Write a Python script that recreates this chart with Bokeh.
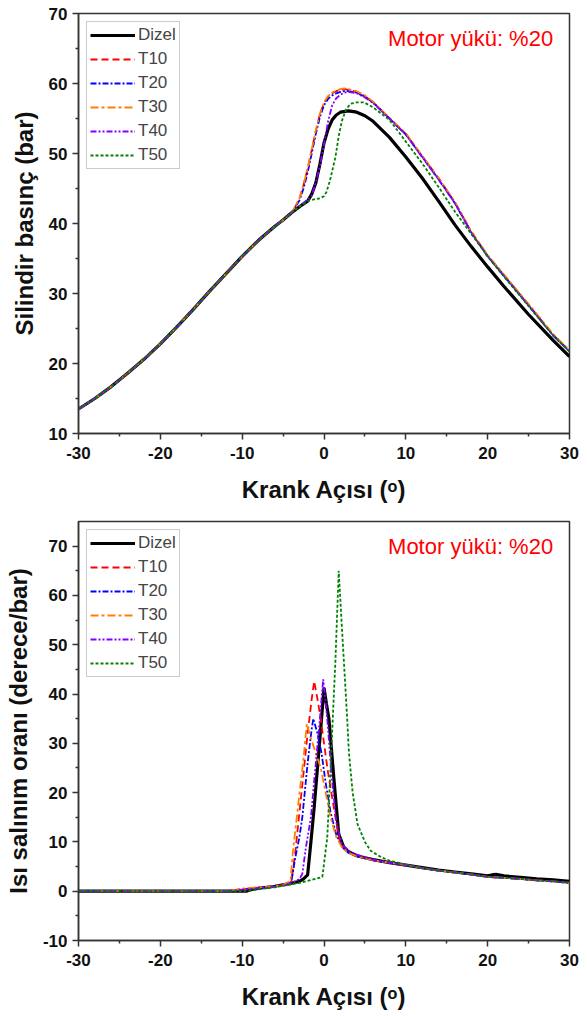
from bokeh.plotting import figure
from bokeh.layouts import column
from bokeh.models import Legend, LegendItem, Range1d, FixedTicker, Label
from bokeh.embed import file_html
from bokeh.resources import INLINE

# ---------------- data: cylinder pressure (bar) ----------------
series_names = ["Dizel", "T10", "T20", "T30", "T40", "T50"]

p_x_common = [-30, -28, -26, -24, -22, -20, -18, -16, -14, -12, -10, -8, -6, -5, -4]
p_y_common = [13.5, 15.0, 16.7, 18.6, 20.6, 22.8, 25.2, 27.7, 30.3, 32.8, 35.3, 37.6, 39.6, 40.5, 41.5]

p_dizel_x = [-3, -2, -1.5, -1, -0.5, 0, 0.5, 1, 1.5, 2, 3, 4, 5, 6, 8, 10, 12, 14, 16, 18, 20, 22, 25, 28, 30]
p_dizel_y = [42.4, 43.2, 44.2, 45.8, 48.5, 51.5, 53.5, 54.8, 55.5, 55.9, 56.1, 55.9, 55.4, 54.6, 52.3, 49.5, 46.5, 43.2, 39.8, 36.7, 33.8, 31.0, 27.0, 23.3, 21.0]

p_t10_x = [-3.5, -3, -2.5, -2, -1.5, -1, -0.5, 0, 0.5, 1, 1.5, 2, 2.5, 3, 4, 5, 6, 8, 10, 12, 14, 16, 18, 20, 22, 25, 28, 30]
p_t10_y = [42.4, 43.5, 45.5, 47.8, 50.5, 53.2, 55.6, 57.2, 58.1, 58.6, 58.9, 59.1, 59.2, 59.1, 58.8, 58.2, 57.3, 55.0, 52.8, 49.6, 46.5, 43.0, 38.8, 35.4, 32.6, 28.4, 24.1, 21.8]

p_t20_x = [-3.5, -3, -2.5, -2, -1.5, -1, -0.5, 0, 0.5, 1, 1.5, 2, 2.5, 3, 4, 5, 6, 8, 10, 12, 14, 16, 18, 20, 22, 25, 28, 30]
p_t20_y = [42.3, 43.3, 45.0, 47.3, 50.0, 52.8, 55.2, 56.9, 57.8, 58.3, 58.6, 58.8, 58.9, 58.9, 58.7, 58.1, 57.3, 55.0, 52.7, 49.5, 46.3, 42.9, 38.7, 35.3, 32.5, 28.3, 24.0, 21.7]

p_t30_x = [-3.5, -3, -2.5, -2, -1.5, -1, -0.5, 0, 0.5, 1, 1.5, 2, 2.5, 3, 4, 5, 6, 8, 10, 12, 14, 16, 18, 20, 22, 25, 28, 30]
p_t30_y = [42.5, 43.6, 45.6, 47.9, 50.6, 53.3, 55.7, 57.3, 58.2, 58.7, 59.0, 59.2, 59.3, 59.2, 58.9, 58.3, 57.4, 55.1, 52.9, 49.7, 46.5, 43.1, 38.9, 35.5, 32.7, 28.5, 24.2, 21.9]

p_t40_x = [-3, -2, -1.5, -1, -0.5, 0, 0.5, 1, 1.5, 2, 2.5, 3, 4, 5, 6, 8, 10, 12, 14, 16, 18, 20, 22, 25, 28, 30]
p_t40_y = [42.5, 43.4, 44.0, 45.8, 48.2, 51.3, 54.6, 56.9, 57.9, 58.4, 58.7, 58.8, 58.6, 58.0, 57.2, 55.0, 52.7, 49.5, 46.3, 42.9, 38.7, 35.3, 32.5, 28.3, 24.0, 21.7]

p_t50_x = [-3, -2, -1, -0.5, 0, 0.3, 0.7, 1.0, 1.4, 1.8, 2.2, 2.7, 3.25, 4, 4.9, 6, 8, 10, 12, 14, 16, 18, 20, 22, 25, 28, 30]
p_t50_y = [42.4, 43.2, 43.5, 43.6, 43.9, 44.5, 46.0, 47.5, 49.5, 52.5, 54.7, 56.3, 57.1, 57.3, 57.3, 56.6, 54.8, 51.7, 48.6, 45.2, 41.7, 38.5, 35.3, 32.4, 28.2, 24.0, 21.7]

# ---------------- data: heat release rate (derece/bar) ----------------
h_x_common = [-30, -25, -20, -15, -12]
h_y_common = [0, 0, 0, 0, 0]

h_dizel_x = [-10, -9.5, -9, -8, -7, -6, -5, -4, -3, -2.5, -2.0, -1.6, -1.2, -0.8, -0.4, 0, 0.3, 0.6, 1.2, 1.8, 2.4, 3, 4, 5, 6, 8, 10, 12, 14, 16, 18, 20, 20.5, 21, 22, 24, 26, 28, 30]
h_dizel_y = [0, 0, 0.3, 0.6, 0.8, 1.0, 1.3, 1.6, 2.0, 2.5, 3.3, 10, 17, 25, 33, 41.3, 38, 35, 23, 11.6, 9.0, 8.0, 7.2, 6.8, 6.4, 5.8, 5.3, 4.8, 4.3, 3.9, 3.5, 3.1, 3.3, 3.4, 3.1, 2.8, 2.5, 2.3, 2.0]

h_t10_x = [-10, -8, -6, -5, -4, -3.5, -3, -2.5, -2.0, -1.5, -1.2, -0.8, -0.4, 0, 0.5, 1.0, 1.6, 2.0, 2.5, 3, 4, 5, 6, 8, 10, 12, 14, 16, 18, 20, 22, 24, 26, 28, 30]
h_t10_y = [0.4, 0.7, 1.0, 1.3, 1.8, 8, 16, 24, 32, 39, 42.6, 39, 35, 30, 24, 19, 13, 9.6, 8.5, 7.8, 7.1, 6.7, 6.3, 5.8, 5.3, 4.7, 4.2, 3.8, 3.4, 2.9, 2.7, 2.5, 2.2, 2.0, 1.7]

h_t20_x = [-10, -8, -6, -5, -4, -3.5, -3, -2.65, -2, -1.5, -1.3, -0.8, -0.3, 0.2, 0.8, 1.5, 2.2, 3, 4, 5, 6, 8, 10, 12, 14, 16, 18, 20, 22, 24, 26, 28, 30]
h_t20_y = [0.4, 0.7, 1.0, 1.3, 1.8, 6.9, 11, 15, 26, 33, 35, 32, 28, 22, 16, 11.5, 9.0, 7.8, 7.1, 6.7, 6.3, 5.8, 5.3, 4.7, 4.2, 3.8, 3.4, 2.9, 2.7, 2.5, 2.2, 2.0, 1.7]

h_t30_x = [-10, -8, -6, -5, -4.1, -3.8, -3.1, -2.5, -2.1, -1.6, -1.0, -0.4, 0.2, 0.8, 1.5, 2.2, 3, 4, 5, 6, 8, 10, 12, 14, 16, 18, 20, 22, 24, 26, 28, 30]
h_t30_y = [0.5, 0.8, 1.0, 1.3, 2.1, 8, 18.3, 27, 34, 31, 28, 25, 20, 15, 11, 8.9, 7.8, 7.1, 6.7, 6.3, 5.8, 5.3, 4.7, 4.2, 3.8, 3.4, 2.9, 2.7, 2.5, 2.2, 2.0, 1.7]

h_t40_x = [-10, -8, -6, -5, -4, -3, -2.65, -2.2, -1.6, -1.0, -0.5, -0.1, 0.4, 0.9, 1.5, 2.2, 3, 4, 5, 6, 8, 10, 12, 14, 16, 18, 20, 22, 24, 26, 28, 30]
h_t40_y = [0.3, 0.6, 0.9, 1.2, 1.6, 2.5, 3.5, 9, 15, 26, 35, 43, 35, 24, 14, 9.5, 8.2, 7.4, 6.9, 6.4, 5.8, 5.3, 4.7, 4.2, 3.8, 3.4, 2.9, 2.7, 2.5, 2.2, 2.0, 1.7]

h_t50_x = [-10, -9, -8, -6, -4, -3, -2, -1, -0.2, 0.4, 0.8, 1.1, 1.4, 1.8, 2.1, 2.4, 2.8, 3.05, 3.5, 4.1, 5, 5.7, 7, 8, 10, 12, 14, 16, 18, 20, 22, 24, 26, 28, 30]
h_t50_y = [0, 0.1, 0.4, 0.8, 1.4, 1.7, 2.1, 2.5, 2.9, 10.9, 25, 36, 47, 65, 56, 47.5, 36, 28, 20, 13.6, 10, 8.2, 6.9, 6.2, 5.4, 4.7, 4.2, 3.8, 3.4, 2.9, 2.7, 2.5, 2.2, 2.0, 1.7]

x_ticks = [-30, -20, -10, 0, 10, 20, 30]
x_minor = [-25, -15, -5, 5, 15, 25]
p_ticks = [10, 20, 30, 40, 50, 60, 70]
p_minor = [15, 25, 35, 45, 55, 65]
h_ticks = [-10, 0, 10, 20, 30, 40, 50, 60, 70]
h_minor = [-5, 5, 15, 25, 35, 45, 55, 65]

colors = ["#000000", "#FF0000", "#0000FF", "#FF8000", "#8000FF", "#008000"]
dashes = ["solid", "7 4", "6 2 2 2", "8 3 3 3", "6 2 2 2 2 2", "3 2"]
widths = [3.2, 1.8, 1.8, 1.8, 1.8, 1.8]

FONT = "Liberation Sans"


def style(p, yticks, yminor, ylabel):
    p.xgrid.visible = False
    p.ygrid.visible = False
    p.outline_line_color = "#333333"
    p.outline_line_width = 1.5
    p.xaxis.ticker = FixedTicker(ticks=x_ticks, minor_ticks=x_minor)
    p.yaxis.ticker = FixedTicker(ticks=yticks, minor_ticks=yminor)
    p.xaxis.major_label_overrides = {t: str(t) for t in x_ticks}
    p.yaxis.major_label_overrides = {t: str(t) for t in yticks}
    for ax in (p.xaxis[0], p.yaxis[0]):
        ax.axis_line_color = "#333333"
        ax.axis_line_width = 1.5
        ax.major_tick_line_color = "#333333"
        ax.minor_tick_line_color = "#333333"
        ax.major_tick_line_width = 1.5
        ax.minor_tick_line_width = 1.5
        ax.major_tick_out = 6
        ax.major_tick_in = 0
        ax.minor_tick_out = 3
        ax.minor_tick_in = 0
        ax.major_label_text_font = FONT
        ax.major_label_text_font_style = "bold"
        ax.major_label_text_font_size = "17px"
        ax.major_label_text_color = "#111111"
        ax.axis_label_text_font = FONT
        ax.axis_label_text_font_style = "bold"
        ax.axis_label_text_font_size = "24px"
        ax.axis_label_text_color = "#111111"
    p.xaxis.axis_label = "Krank Açısı (ᵒ)"
    p.xaxis.axis_label_standoff = 14
    p.xaxis.major_label_standoff = 7
    p.yaxis.axis_label = ylabel
    p.yaxis.axis_label_standoff = 8
    p.yaxis.major_label_standoff = 5


def add_series(p, xs, ys):
    items = []
    for name, x, y, c, d, w in zip(series_names, xs, ys, colors, dashes, widths):
        r = p.line(x, y, line_color=c, line_dash=d, line_width=w)
        items.append(LegendItem(label=name, renderers=[r]))
    leg = Legend(items=items, location="top_left")
    leg.margin = 8
    leg.padding = 3
    leg.spacing = 4
    leg.glyph_width = 45
    leg.glyph_height = 20
    leg.label_height = 20
    leg.label_standoff = 3
    leg.label_text_font = FONT
    leg.label_text_font_size = "17px"
    leg.border_line_color = "#999999"
    leg.border_line_width = 1
    leg.background_fill_alpha = 1
    p.add_layout(leg)


# ---------------- top figure ----------------
p1 = figure(frame_width=491, frame_height=420, x_range=Range1d(-30, 30), y_range=Range1d(10, 70),
            output_backend="svg", toolbar_location=None,
            min_border_left=78, min_border_right=17, min_border_top=13, min_border_bottom=73)
style(p1, p_ticks, p_minor, "Silindir basınç (bar)")
p_xs = [p_x_common + p_dizel_x, p_x_common + p_t10_x, p_x_common + p_t20_x,
        p_x_common + p_t30_x, p_x_common + p_t40_x, p_x_common + p_t50_x]
p_ys = [p_y_common + p_dizel_y, p_y_common + p_t10_y, p_y_common + p_t20_y,
        p_y_common + p_t30_y, p_y_common + p_t40_y, p_y_common + p_t50_y]
add_series(p1, p_xs, p_ys)
p1.add_layout(Label(x=28, y=66.4, text="Motor yükü: %20", text_align="right", text_baseline="middle",
                    text_color="#FF0000", text_font=FONT, text_font_size="22px"))

# ---------------- bottom figure ----------------
p2 = figure(frame_width=491, frame_height=419, x_range=Range1d(-30, 30), y_range=Range1d(-10, 75),
            output_backend="svg", toolbar_location=None,
            min_border_left=78, min_border_right=17, min_border_top=15, min_border_bottom=75)
style(p2, h_ticks, h_minor, "Isı salınım oranı (derece/bar)")
h_xs = [h_x_common + h_dizel_x, h_x_common + h_t10_x, h_x_common + h_t20_x,
        h_x_common + h_t30_x, h_x_common + h_t40_x, h_x_common + h_t50_x]
h_ys = [h_y_common + h_dizel_y, h_y_common + h_t10_y, h_y_common + h_t20_y,
        h_y_common + h_t30_y, h_y_common + h_t40_y, h_y_common + h_t50_y]
add_series(p2, h_xs, h_ys)
p2.add_layout(Label(x=28, y=70, text="Motor yükü: %20", text_align="right", text_baseline="middle",
                    text_color="#FF0000", text_font=FONT, text_font_size="22px"))

layout = column(p1, p2, spacing=0)
open("out.html", "w").write(file_html(layout, INLINE))
